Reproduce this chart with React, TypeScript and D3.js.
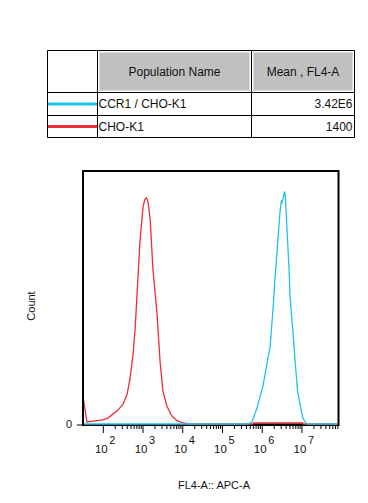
import React from "react";
import * as d3 from "d3";

// Legend table
const populations = ["CCR1 / CHO-K1", "CHO-K1"];
const means = ["3.42E6", "1400"];
const popColors = ["#1ec3ec", "#ee2d36"];
const headers = ["Population Name", "Mean , FL4-A"];

// Histogram data: log10(FL4-A) and count (% of max axis)
const redLog = [1.489, 1.539, 1.589, 1.69, 1.79, 1.99, 2.12, 2.24, 2.37, 2.5, 2.6, 2.67, 2.75, 2.8, 2.87, 2.92, 3.0, 3.04, 3.08, 3.1, 3.13, 3.18, 3.25, 3.35, 3.43, 3.5, 3.6, 3.71, 3.85, 4.01, 4.18, 5.77, 5.78, 7.02, 7.03, 7.94];
const redCount = [11.0, 5.9, 0.8, 1.0, 1.2, 1.6, 2.4, 3.9, 5.5, 7.9, 11.8, 17.7, 27.6, 37.4, 57.1, 71.7, 85.8, 88.5, 89.4, 89.0, 87.4, 80.7, 61.0, 44.1, 24.4, 13.0, 7.1, 3.5, 1.3, 0.4, 0, 0, 0.3, 0.3, 0, 0];
const cyanLog = [1.489, 5.64, 5.74, 5.86, 5.95, 6.02, 6.11, 6.2, 6.27, 6.32, 6.37, 6.45, 6.48, 6.5, 6.53, 6.56, 6.58, 6.62, 6.68, 6.7, 6.77, 6.83, 6.89, 6.96, 7.02, 7.08, 7.13, 7.94];
const cyanCount = [0, 0, 0.8, 5.9, 11, 15.1, 23, 30.8, 45, 57.1, 67.7, 84.3, 88.0, 87.5, 89.5, 91.9, 90.6, 78.0, 59.8, 50.4, 37, 24.4, 13, 7.2, 2.5, 0.8, 0, 0];

const xMajor = [2, 3, 4, 5, 6, 7];
const yTicks = [0];
const xTitle = "FL4-A:: APC-A";
const yTitle = "Count";

const FONT = "'Liberation Sans', Arial, sans-serif";

export default function App() {
  const W = 368, H = 503;
  const plot = { l: 83, r: 338.5, t: 171, b: 425 };
  const x = d3.scaleLog().domain([Math.pow(10, 1.489), Math.pow(10, 7.92)]).range([plot.l, plot.r]);
  const y = d3.scaleLinear().domain([0, 100]).range([plot.b - 1, plot.t]);

  const line = d3.line<[number, number]>()
    .x((d) => x(Math.pow(10, d[0])))
    .y((d) => y(d[1]));

  const redPts: [number, number][] = redLog.map((v, i) => [v, redCount[i]]);
  const cyanPts: [number, number][] = cyanLog.map((v, i) => [v, cyanCount[i]]);

  // ticks
  const minor: number[] = [];
  for (let e = 2; e <= 7; e++) {
    for (let m = 2; m <= 9; m++) {
      const v = m * Math.pow(10, e);
      if (v > x.domain()[0] && v < x.domain()[1]) minor.push(v);
    }
  }

  // table geometry
  const tb = { l: 47.5, r: 354.5, t: 50.5 };
  const cols = [47.5, 97.5, 251.5, 354.5];
  const rows = [50.5, 92.5, 115.5, 137.5];

  return (
    <svg width={W} height={H} style={{ position: "absolute", left: 0, top: 0 }} fontFamily={FONT}>
      <rect width={W} height={H} fill="#fff" />
      {/* Table */}
      {headers.map((h, i) => {
        const x0 = cols[i + 1], x1 = cols[i + 2];
        return (
          <g key={h}>
            <rect x={x0 + 2} y={rows[0] + 2} width={x1 - x0 - 4} height={rows[1] - rows[0] - 4} fill="#c0c0c0" stroke="#dcdcdc" strokeWidth={1} />
            <text x={(x0 + x1) / 2} y={(rows[0] + rows[1]) / 2 + 4} textAnchor="middle" fontSize={12} fill="#111">{h}</text>
          </g>
        );
      })}
      {populations.map((p, i) => {
        const y0 = rows[i + 1], y1 = rows[i + 2];
        return (
          <g key={p}>
            <line x1={cols[0]} x2={cols[1]} y1={(y0 + y1) / 2} y2={(y0 + y1) / 2} stroke={popColors[i]} strokeWidth={3} />
            <text x={cols[1] + 1} y={(y0 + y1) / 2 + 4} fontSize={12} fill="#111">{p}</text>
            <text x={cols[3] - 2} y={(y0 + y1) / 2 + 4} fontSize={12} textAnchor="end" fill="#111">{means[i]}</text>
          </g>
        );
      })}
      {rows.map((r) => (
        <line key={r} x1={tb.l} x2={tb.r} y1={r} y2={r} stroke="#000" strokeWidth={1} />
      ))}
      {cols.map((c) => (
        <line key={c} x1={c} x2={c} y1={rows[0]} y2={rows[3]} stroke="#000" strokeWidth={1} />
      ))}

      {/* Plot */}
      <defs>
        <clipPath id="pc">
          <rect x={plot.l + 1} y={plot.t} width={plot.r - plot.l - 2} height={plot.b - plot.t} />
        </clipPath>
      </defs>
      <rect x={plot.l} y={plot.t} width={plot.r - plot.l} height={plot.b - plot.t} fill="none" stroke="#000" strokeWidth={2} />
      <g clipPath="url(#pc)">
        <path d={line(redPts) || ""} fill="none" stroke={popColors[1]} strokeWidth={1.3} />
        <path d={line(cyanPts) || ""} fill="none" stroke={popColors[0]} strokeWidth={1.3} />
        <path d={line(redPts.slice(31, 35)) || ""} fill="none" stroke="#c8323a" strokeWidth={1.3} />
      </g>

      {/* x ticks */}
      {minor.map((v) => (
        <line key={"m" + v} x1={x(v)} x2={x(v)} y1={plot.b} y2={plot.b + 4} stroke="#000" strokeWidth={1} />
      ))}
      {xMajor.map((e) => {
        const px = x(Math.pow(10, e));
        return (
          <g key={e}>
            <line x1={px} x2={px} y1={plot.b} y2={plot.b + 8} stroke="#000" strokeWidth={1} />
            <text x={px - 2} y={453} textAnchor="middle" fontSize={11.5} fill="#111">10</text>
            <text x={px + 6} y={443.5} textAnchor="start" fontSize={11} fill="#111">{e}</text>
          </g>
        );
      })}
      {/* y ticks */}
      {yTicks.map((t) => (
        <g key={t}>
          <line x1={plot.l - 6} x2={plot.l} y1={plot.b} y2={plot.b} stroke="#000" strokeWidth={1} />
          <text x={plot.l - 11} y={plot.b + 3} textAnchor="end" fontSize={11} fill="#111">{t}</text>
        </g>
      ))}
      <text x={214} y={489} textAnchor="middle" fontSize={11} fill="#111">{xTitle}</text>
      <text transform={`translate(35,${(plot.t + plot.b) / 2 + 8}) rotate(-90)`} textAnchor="middle" fontSize={11} fill="#111">{yTitle}</text>
    </svg>
  );
}
